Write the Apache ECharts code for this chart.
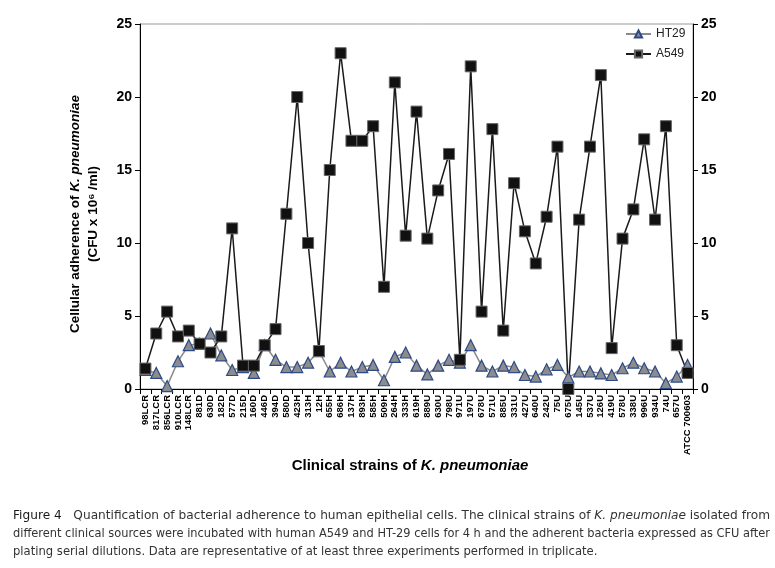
<!DOCTYPE html>
<html><head><meta charset="utf-8">
<script src="https://cdn.jsdelivr.net/npm/echarts@6/dist/echarts.min.js"></script>
<style>html,body{margin:0;padding:0;background:#fff}#c{width:775px;height:568px}</style>
</head><body><div id="c"></div>
<script>
const categories = ["98LCR","817LCR","856LCR","910LCR","148LCR","881D","630D","182D","577D","215D","160D","446D","394D","580D","423H","313H","12H","655H","686H","137H","893H","585H","509H","264H","333H","619H","889U","630U","798U","971U","197U","678U","571U","885U","331U","427U","640U","242U","75U","675U","145U","537U","126U","419U","578U","338U","996U","934U","74U","657U","ATCC 700603"];
const ht29 = [1.3,1.1,0.2,1.9,3.0,3.1,3.8,2.3,1.3,1.5,1.1,3.0,2.0,1.5,1.5,1.8,2.6,1.2,1.8,1.2,1.5,1.65,0.6,2.2,2.5,1.6,1.0,1.6,2.0,1.8,3.0,1.6,1.2,1.6,1.5,0.96,0.85,1.35,1.65,0.8,1.2,1.2,1.07,0.96,1.42,1.8,1.42,1.2,0.4,0.85,1.65];
const a549 = [1.4,3.8,5.3,3.6,4.0,3.1,2.5,3.6,11.0,1.6,1.6,3.0,4.1,12.0,20.0,10.0,2.6,15.0,23.0,17.0,17.0,18.0,7.0,21.0,10.5,19.0,10.3,13.6,16.1,2.0,22.1,5.3,17.8,4.0,14.1,10.8,8.6,11.8,16.6,0,11.6,16.6,21.5,2.8,10.3,12.3,17.1,11.6,18.0,3.0,1.1];
const yTicks = {min: 0, max: 25, interval: 5};
const seriesNames = ["HT29", "A549"];
const yTitle1 = "Cellular adherence of ";
const italicName = "K. pneumoniae";
const yTitle2 = "(CFU x 10⁶ /ml)";
const xTitle = "Clinical strains of ";
const captionLines = [
  ["Figure 4", "   Quantification of bacterial adherence to human epithelial cells. The clinical strains of ", "K. pneumoniae", " isolated from"],
  ["", "different clinical sources were incubated with human A549 and HT-29 cells for 4 h and the adherent bacteria expressed as CFU after"],
  ["", "plating serial dilutions. Data are representative of at least three experiments performed in triplicate."]
];

const chart = echarts.init(document.getElementById('c'));
const FONT = '"Liberation Sans", Arial, sans-serif';
const CFONT = '"DejaVu Sans", sans-serif';
const CSIZE = 11.6;
const yAxisCommon = {
  type: 'value', min: yTicks.min, max: yTicks.max, interval: yTicks.interval,
  splitLine: {show: false},
  axisLine: {show: true, lineStyle: {color: '#000', width: 1}},
  axisTick: {show: true, inside: false, length: 5, lineStyle: {color: '#000'}},
  axisLabel: {fontFamily: FONT, fontWeight: 'bold', fontSize: 14, color: '#000', margin: 8}
};
const mctx = document.createElement('canvas').getContext('2d');
function measure(s, italic) {
  mctx.font = (italic ? 'italic ' : '') + CSIZE + 'px ' + CFONT;
  return mctx.measureText(s).width;
}
const capGraphics = captionLines.map((ln, i) => {
  let t = '', w = 0;
  if (ln[0]) { t += '{fig|' + ln[0] + '}'; w += measure(ln[0]); }
  t += '{n|' + ln[1] + '}'; w += measure(ln[1]);
  if (ln[2]) { t += '{it|' + ln[2] + '}{n|' + ln[3] + '}'; w += measure(ln[2], true) + measure(ln[3]); }
  const justify = i < captionLines.length - 1;
  const sx = justify ? 757 / w : 1;
  return {
    type: 'text', x: 13, y: 510 + i * 18, scaleX: sx, originX: 0,
    style: {
      text: t, font: CSIZE + 'px ' + CFONT, verticalAlign: 'top',
      rich: {
        n: {fontFamily: CFONT, fontSize: CSIZE, fill: '#333'},
        fig: {fontFamily: CFONT, fontSize: CSIZE, fill: '#1a1a1a'},
        it: {fontFamily: CFONT, fontSize: CSIZE, fill: '#333', fontStyle: 'italic'}
      }
    }
  };
});
chart.setOption({
  animation: false,
  backgroundColor: '#fff',
  grid: {left: 140, right: 82, top: 24, bottom: 179, show: true, borderColor: '#999', borderWidth: 1},
  legend: {
    data: seriesNames, orient: 'vertical', left: 620, top: 23, itemGap: 8,
    itemWidth: 25, itemHeight: 9,
    textStyle: {fontFamily: FONT, fontSize: 12, color: '#222'}
  },
  xAxis: {
    type: 'category', data: categories, boundaryGap: true,
    axisLine: {lineStyle: {color: '#000', width: 1}},
    axisTick: {show: true, interval: 0, length: 5, lineStyle: {color: '#000'}},
    axisLabel: {interval: 0, rotate: 90, fontFamily: FONT, fontWeight: 'bold', fontSize: 9.5, color: '#000', margin: 6}
  },
  yAxis: [
    Object.assign({position: 'left'}, yAxisCommon),
    Object.assign({position: 'right'}, yAxisCommon)
  ],
  series: [
    {
      name: seriesNames[0], type: 'line', data: ht29, yAxisIndex: 0,
      symbol: 'triangle', symbolSize: 11,
      lineStyle: {color: '#8a8a8a', width: 1.5},
      itemStyle: {color: '#8c8c8c', borderColor: '#2c4a86', borderWidth: 1.2}
    },
    {
      name: seriesNames[1], type: 'line', data: a549, yAxisIndex: 0,
      symbol: 'rect', symbolSize: 11,
      lineStyle: {color: '#1a1a1a', width: 1.5},
      itemStyle: {color: '#111', borderColor: '#666', borderWidth: 1}
    },
    {
      name: 'A549x', type: 'scatter', data: a549, yAxisIndex: 0, silent: true,
      symbol: 'path://M0,0L10,10M10,0L0,10', symbolSize: 5,
      itemStyle: {color: 'none', borderColor: '#7a1010', borderWidth: 1}
    }
  ],
  graphic: [
    {
      type: 'text', x: 84, y: 214, rotation: Math.PI / 2,
      style: {
        text: '{b|' + yTitle1 + '}{bi|' + italicName + '}\n{b|' + yTitle2 + '}',
        align: 'center', verticalAlign: 'middle', lineHeight: 18,
        rich: {
          b: {fontFamily: FONT, fontWeight: 'bold', fontSize: 13.5, fill: '#000', lineHeight: 18},
          bi: {fontFamily: FONT, fontWeight: 'bold', fontStyle: 'italic', fontSize: 13.5, fill: '#000', lineHeight: 18}
        }
      }
    },
    {
      type: 'text', x: 410, y: 466,
      style: {
        text: '{b|' + xTitle + '}{bi|' + italicName + '}',
        align: 'center', verticalAlign: 'middle',
        rich: {
          b: {fontFamily: FONT, fontWeight: 'bold', fontSize: 15, fill: '#000'},
          bi: {fontFamily: FONT, fontWeight: 'bold', fontStyle: 'italic', fontSize: 15, fill: '#000'}
        }
      }
    }
  ].concat(capGraphics)
});
</script></body></html>
